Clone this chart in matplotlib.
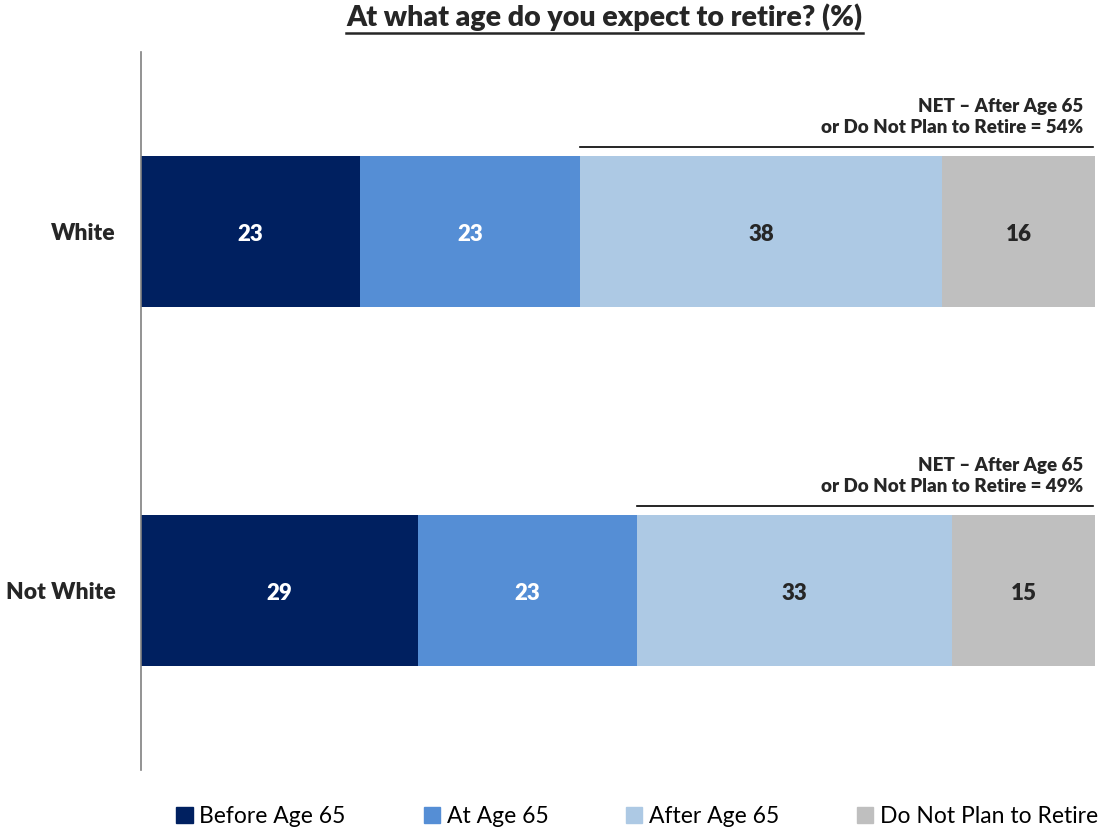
import matplotlib.pyplot as plt
from matplotlib.lines import Line2D
from matplotlib.patches import Patch

plt.rcParams['font.family'] = ['Lato', 'DejaVu Sans']

groups = ["White", "Not White"]
series = ["Before Age 65", "At Age 65", "After Age 65", "Do Not Plan to Retire"]
before = [23, 29]
at65 = [23, 23]
after = [38, 33]
noplan = [16, 15]
net = [54, 49]

colors = ["#002060", "#558ED5", "#ADC9E4", "#BFBFBF"]
text_colors = ["white", "white", "#262626", "#262626"]

fig = plt.figure(figsize=(10.99, 8.27), dpi=100)
ax = fig.add_axes([0.1283, 0.0689, 0.868, 0.8682])

values = [before, at65, after, noplan]
ypos = list(range(len(groups)))
left = [0, 0]
for vals, col, tc, name in zip(values, colors, text_colors, series):
    ax.barh(ypos, vals, left=left, height=0.423, color=col, label=name)
    for y, v, l in zip(ypos, vals, left):
        ax.text(l + v / 2, y + 0.008, str(v), ha="center", va="center",
                color=tc, fontsize=16, fontweight="heavy")
    left = [a + b for a, b in zip(left, vals)]

# NET annotation lines and labels
for y, b, a, n in zip(ypos, before, at65, net):
    start = b + a
    ax.plot([start, 99.8], [y - 0.235, y - 0.235], color="black", lw=1.2,
            clip_on=False)
    ax.text(98.8, y - 0.265, "NET \u2013 After Age 65\nor Do Not Plan to Retire = %d%%" % n,
            ha="right", va="bottom", fontsize=13.5, fontweight="heavy",
            color="#262626", linespacing=1.3)

ax.set_xlim(0, 100)
ax.set_ylim(1.5, -0.5)
ax.set_yticks(ypos)
ax.set_yticklabels(groups, fontsize=16.5, fontweight="heavy", color="#262626")
ax.tick_params(axis="y", length=0, pad=18)
ax.set_xticks([])
for s in ["top", "right", "bottom"]:
    ax.spines[s].set_visible(False)
ax.spines["left"].set_color("#808080")
ax.spines["left"].set_linewidth(1.2)

title = fig.text(0.55, 0.979, "At what age do you expect to retire? (%)", ha="center",
                 va="center", fontsize=20.5, fontweight="heavy", color="#262626")
fig.canvas.draw()
bb = title.get_window_extent().transformed(fig.transFigure.inverted())
fig.add_artist(Line2D([bb.x0, bb.x1], [bb.y0 - 0.002, bb.y0 - 0.002],
                      color="#262626", lw=1.8))

handles = [Patch(color=c) for c in colors]
fig.legend(handles, series, loc="lower center", bbox_to_anchor=(0.58, -0.025), ncol=4,
           frameon=False, fontsize=16.5, handlelength=0.7, handleheight=0.7,
           handletextpad=0.3, columnspacing=3.4)

fig.savefig("out.png", dpi=100)
